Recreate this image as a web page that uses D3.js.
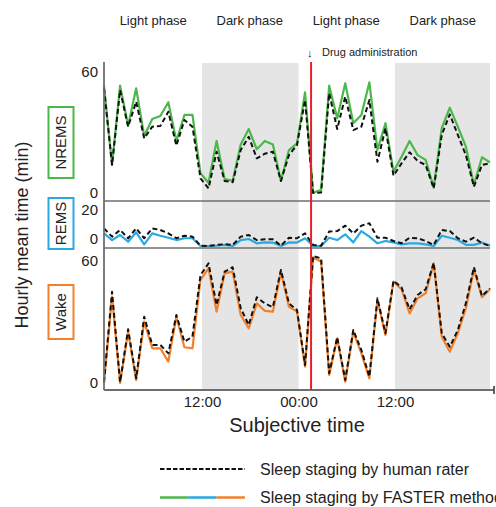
<!DOCTYPE html>
<html>
<head>
<meta charset="utf-8">
<script src="https://cdn.jsdelivr.net/npm/d3@7/dist/d3.min.js"></script>
<style>
  html, body { margin: 0; padding: 0; background: #fff; }
  svg { display: block; font-family: "Liberation Sans", Arial, sans-serif; }
</style>
</head>
<body>
<svg id="chart" width="496" height="507"></svg>
<script>
// ---- data (hourly means, minutes; index = hour from start of recording) ----
const hours = d3.range(49);
const nremsFaster = [53.2,13.9,53.2,33.4,51.9,28.3,36.7,38.2,45.0,25.8,38.7,38.7,9.8,5.1,25.8,6.9,6.0,24.1,31.7,21.7,25.8,24.1,6.0,21.3,24.6,49.9,0.2,1.5,53.2,37.0,54.4,34.6,38.7,54.9,21.3,34.6,10.6,18.0,25.8,18.8,16.4,2.6,32.1,42.3,32.9,23.0,4.0,17.7,15.2];
const nremsHuman  = [51.9,14.0,51.0,32.9,45.3,27.1,32.9,33.2,40.3,23.5,36.2,32.9,7.3,2.3,20.5,6.0,5.3,21.3,27.9,17.2,19.5,20.5,6.0,18.8,23.8,46.1,0.0,0.3,49.5,31.7,47.8,31.2,32.9,46.1,15.5,32.1,8.6,14.7,20.2,15.9,13.9,2.3,28.8,39.0,28.8,18.8,3.1,13.9,14.7];
const remsFaster  = [7.0,3.3,6.1,2.4,7.6,0.9,7.0,5.7,4.6,3.3,4.3,4.3,0.0,0.0,0.2,0.6,0.0,3.3,3.9,1.5,2.0,1.9,0.0,2.0,1.9,4.3,0.0,0.0,4.6,3.3,6.5,2.0,8.3,5.2,1.5,2.8,2.0,0.9,1.5,1.5,0.9,0.0,5.7,4.6,3.3,0.6,0.6,1.9,0.2];
const remsHuman   = [9.8,5.2,8.9,4.3,9.8,4.3,9.8,8.9,7.0,4.3,5.7,5.2,0.2,0.0,0.6,1.0,0.6,5.2,6.1,3.3,3.8,3.7,0.2,4.6,4.3,7.0,0.6,0.2,8.0,8.3,11.3,7.0,11.3,12.6,4.6,4.6,2.8,1.5,4.6,4.3,2.8,0.6,8.9,8.3,4.3,2.4,4.6,1.5,0.0];
const wakeFaster  = [0.0,40.8,0.0,24.2,1.4,29.0,16.4,16.4,10.1,31.3,16.9,16.4,48.7,54.2,33.7,51.8,52.6,32.1,25.8,37.6,34.1,33.7,52.6,36.0,33.7,7.7,59.4,57.3,3.8,21.1,0.6,24.2,14.0,2.2,39.2,22.7,47.9,44.3,32.9,40.0,42.4,56.5,21.9,14.8,23.5,35.3,53.7,40.5,44.3];
const wakeHuman   = [0.4,43.1,0.5,25.4,2.2,31.3,18.0,18.0,14.0,32.1,19.5,21.9,51.0,56.5,36.8,52.6,54.7,35.3,27.4,40.5,37.6,35.8,53.4,37.6,34.5,8.5,60.0,58.9,4.6,21.6,1.4,25.0,15.6,3.0,40.0,23.5,48.3,45.2,34.8,41.6,44.3,56.8,23.5,17.1,25.0,37.6,54.7,41.1,44.7];

const darkPhases = [[12, 24], [36, 48]];
const phaseLabels = ["Light phase", "Dark phase", "Light phase", "Dark phase"];
const phaseCenters = [6, 18, 30, 42];
const xTickHours = [12, 24, 36];
const xTickLabels = ["12:00", "00:00", "12:00"];
const drugHour = 25.75;
const stageNames = ["NREMS", "REMS", "Wake"];
const nremsTicks = [0, 60];
const remsTicks = [0, 20];
const wakeTicks = [0, 60];
const legendLabels = ["Sleep staging by human rater", "Sleep staging by FASTER method"];

// ---- layout ----
const svg = d3.select("#chart");
const colors = { NREMS: "#4cb74a", REMS: "#2aa9e1", Wake: "#f3802a" };
const axisColor = "#6e6e6e";

const x = d3.scaleLinear().domain([0, 48]).range([104, 490]);
const yN = d3.scaleLinear().domain([0, 60]).range([193, 72]);
const yR = d3.scaleLinear().domain([0, 20]).range([246, 210]);
const yW = d3.scaleLinear().domain([0, 60]).range([383, 256]);

const plotTop = 63, plotBottom = 390;

// shaded dark phases
svg.selectAll("rect.dark").data(darkPhases).join("rect")
  .attr("class", "dark")
  .attr("x", d => x(d[0]) + 1.5)
  .attr("width", d => x(d[1]) - x(d[0]))
  .attr("y", plotTop)
  .attr("height", plotBottom - plotTop)
  .attr("fill", "#e5e5e5");
// clip the last shading to the axis end
svg.selectAll("rect.dark").filter((d, i) => i === 1)
  .attr("width", d => x(d[1]) - x(d[0]) - 1.5);

// phase labels
svg.selectAll("text.phase").data(phaseLabels).join("text")
  .attr("class", "phase")
  .attr("x", (d, i) => x(phaseCenters[i]) + 1)
  .attr("y", 25)
  .attr("text-anchor", "middle")
  .attr("font-size", 13)
  .attr("fill", "#222")
  .text(d => d);

// lines
function drawPair(scale, faster, human, color) {
  const line = d3.line().x((d, i) => x(hours[i])).y(d => scale(d));
  svg.append("path").datum(faster)
    .attr("d", line).attr("fill", "none")
    .attr("stroke", color).attr("stroke-width", 2.2)
    .attr("stroke-linejoin", "round");
  svg.append("path").datum(human)
    .attr("d", line).attr("fill", "none")
    .attr("stroke", "#111").attr("stroke-width", 2)
    .attr("stroke-dasharray", "5,3")
    .attr("stroke-linejoin", "round");
}
drawPair(yN, nremsFaster, nremsHuman, colors.NREMS);
drawPair(yR, remsFaster, remsHuman, colors.REMS);
drawPair(yW, wakeFaster, wakeHuman, colors.Wake);

// separator lines between panels
[201, 248].forEach(yy => {
  svg.append("line")
    .attr("x1", x(0)).attr("x2", x(48))
    .attr("y1", yy).attr("y2", yy)
    .attr("stroke", axisColor).attr("stroke-width", 1.6);
});

// y axis line
svg.append("line")
  .attr("x1", x(0)).attr("x2", x(0))
  .attr("y1", 62).attr("y2", plotBottom)
  .attr("stroke", axisColor).attr("stroke-width", 1.8);

// x axis line
svg.append("line")
  .attr("x1", x(0)).attr("x2", 494)
  .attr("y1", plotBottom).attr("y2", plotBottom)
  .attr("stroke", axisColor).attr("stroke-width", 2);
svg.append("line")
  .attr("x1", 494).attr("x2", 494)
  .attr("y1", plotBottom - 4).attr("y2", plotBottom + 4)
  .attr("stroke", "#333").attr("stroke-width", 1.5);

// x tick labels (via d3 axis, no tick lines)
const xAxis = d3.axisBottom(x)
  .tickValues(xTickHours)
  .tickFormat((d, i) => xTickLabels[i])
  .tickSize(0)
  .tickPadding(6);
const gx = svg.append("g").attr("transform", `translate(1.5,${plotBottom})`).call(xAxis);
gx.select(".domain").remove();
gx.selectAll("text").attr("font-size", 15).attr("fill", "#222")
  .attr("font-family", "Liberation Sans, Arial, sans-serif");

// y tick labels
function yLabels(scale, ticks, offsets) {
  svg.selectAll(null).data(ticks).join("text")
    .attr("x", 98)
    .attr("y", (d, i) => scale(d) + offsets[i])
    .attr("dy", "0.36em")
    .attr("text-anchor", "end")
    .attr("font-size", 15)
    .attr("fill", "#222")
    .text(d => d);
}
yLabels(yN, nremsTicks, [0, 0]);
yLabels(yR, remsTicks, [-7, 0]);
yLabels(yW, wakeTicks, [0, 5]);

// stage boxes
const boxes = [
  { name: stageNames[0], y0: 107, y1: 178, color: colors.NREMS },
  { name: stageNames[1], y0: 198, y1: 249, color: colors.REMS },
  { name: stageNames[2], y0: 285, y1: 339, color: colors.Wake }
];
boxes.forEach(b => {
  svg.append("rect")
    .attr("x", 48.5).attr("y", b.y0)
    .attr("width", 25).attr("height", b.y1 - b.y0)
    .attr("fill", "#fff").attr("stroke", b.color).attr("stroke-width", 2);
  const cy = (b.y0 + b.y1) / 2;
  svg.append("text")
    .attr("transform", `translate(61,${cy}) rotate(-90)`)
    .attr("text-anchor", "middle")
    .attr("dy", "0.36em")
    .attr("font-size", 15)
    .attr("fill", "#222")
    .text(b.name);
});

// drug administration marker
svg.append("line")
  .attr("x1", x(drugHour)).attr("x2", x(drugHour))
  .attr("y1", 62).attr("y2", plotBottom)
  .attr("stroke", "#e8202a").attr("stroke-width", 2);
svg.append("text")
  .attr("x", x(drugHour) - 4).attr("y", 57)
  .attr("font-size", 11).attr("fill", "#222")
  .text("\u2193");
svg.append("text")
  .attr("x", 322).attr("y", 56)
  .attr("font-size", 11).attr("fill", "#222")
  .text("Drug administration");

// axis titles
svg.append("text")
  .attr("x", 297).attr("y", 432)
  .attr("text-anchor", "middle")
  .attr("font-size", 20).attr("fill", "#222")
  .text("Subjective time");
svg.append("text")
  .attr("transform", "translate(22,235) rotate(-90)")
  .attr("text-anchor", "middle")
  .attr("dy", "0.36em")
  .attr("font-size", 18).attr("fill", "#222")
  .text("Hourly mean time (min)");

// legend
svg.append("line")
  .attr("x1", 160).attr("x2", 245).attr("y1", 469).attr("y2", 469)
  .attr("stroke", "#111").attr("stroke-width", 2.2)
  .attr("stroke-dasharray", "4.5,2");
const segs = [colors.NREMS, colors.REMS, colors.Wake];
segs.forEach((c, i) => {
  svg.append("line")
    .attr("x1", 160 + i * 28.3).attr("x2", 160 + (i + 1) * 28.3)
    .attr("y1", 497.5).attr("y2", 497.5)
    .attr("stroke", c).attr("stroke-width", 2.5);
});
legendLabels.forEach((t, i) => {
  svg.append("text")
    .attr("x", 260).attr("y", 469 + i * 28.5)
    .attr("dy", "0.36em")
    .attr("font-size", 16).attr("fill", "#222")
    .text(t);
});
</script>
</body>
</html>
